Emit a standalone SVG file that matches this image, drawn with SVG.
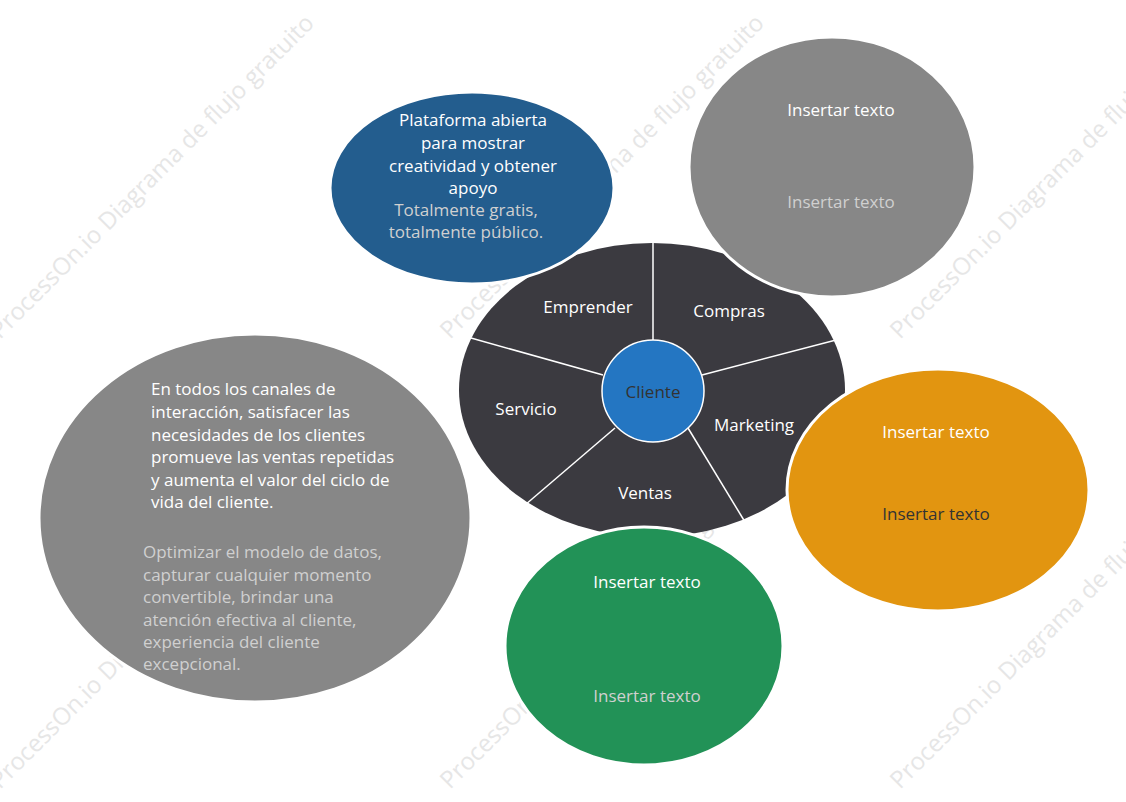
<svg xmlns="http://www.w3.org/2000/svg" width="1126" height="802" viewBox="0 0 1126 802">
<style>
text{font-family:"Open Sans","Noto Sans","Liberation Sans",sans-serif;font-size:17px}
.w{fill:#ffffff}.l{fill:#d0d0d0}.d{fill:#333333}
.wm{fill:#e6e6e6;font-size:24px}
.ring{stroke:#ffffff;stroke-width:3}
</style>
<rect width="1126" height="802" fill="#ffffff"/>
<g id="watermarks">
<text class="wm" transform="translate(0,340) rotate(-45)">ProcessOn.io Diagrama de flujo gratuito</text>
<text class="wm" transform="translate(450,340) rotate(-45)">ProcessOn.io Diagrama de flujo gratuito</text>
<text class="wm" transform="translate(900,340) rotate(-45)">ProcessOn.io Diagrama de flujo gratuito</text>
<text class="wm" transform="translate(0,790) rotate(-45)">ProcessOn.io Diagrama de flujo gratuito</text>
<text class="wm" transform="translate(450,790) rotate(-45)">ProcessOn.io Diagrama de flujo gratuito</text>
<text class="wm" transform="translate(900,790) rotate(-45)">ProcessOn.io Diagrama de flujo gratuito</text>
</g>
<g id="wheel">
<ellipse cx="652" cy="390" rx="193" ry="147" fill="#3b3a40"/>
<g stroke="#ffffff" stroke-width="1.5">
<line x1="653" y1="341" x2="653" y2="243"/>
<line x1="702" y1="375" x2="836" y2="340"/>
<line x1="688" y1="428" x2="745" y2="522"/>
<line x1="615" y1="428" x2="525" y2="505"/>
<line x1="603" y1="375" x2="471" y2="338"/>
</g>
<text class="w" x="588" y="313" text-anchor="middle">Emprender</text>
<text class="w" x="729" y="317" text-anchor="middle">Compras</text>
<text class="w" x="526" y="415" text-anchor="middle">Servicio</text>
<text class="w" x="754" y="431" text-anchor="middle">Marketing</text>
<text class="w" x="645" y="499" text-anchor="middle">Ventas</text>
</g>
<g id="cliente">
<circle cx="653" cy="391" r="51" fill="#2476c2" stroke="#ffffff" stroke-width="1.5"/>
<text class="d" x="653" y="398" text-anchor="middle">Cliente</text>
</g>
<g id="blue">
<ellipse class="ring" cx="472" cy="188" rx="142" ry="96" fill="#235d8e"/>
<text class="w" text-anchor="middle"><tspan x="473" y="126">Plataforma abierta</tspan><tspan x="473" y="149">para mostrar</tspan><tspan x="473" y="172">creatividad y obtener</tspan><tspan x="473" y="194">apoyo</tspan></text>
<text class="l" text-anchor="middle"><tspan x="466" y="216">Totalmente gratis,</tspan><tspan x="466" y="238">totalmente público.</tspan></text>
</g>
<g id="graytop">
<ellipse class="ring" cx="832" cy="167" rx="143" ry="130" fill="#878787"/>
<text class="w" x="841" y="116" text-anchor="middle">Insertar texto</text>
<text class="l" x="841" y="208" text-anchor="middle">Insertar texto</text>
</g>
<g id="orange">
<ellipse class="ring" cx="938" cy="490" rx="151" ry="121" fill="#e29510"/>
<text class="w" x="936" y="438" text-anchor="middle">Insertar texto</text>
<text class="d" x="936" y="520" text-anchor="middle">Insertar texto</text>
</g>
<g id="green">
<ellipse class="ring" cx="644" cy="646" rx="139" ry="119" fill="#229257"/>
<text class="w" x="647" y="588" text-anchor="middle">Insertar texto</text>
<text class="l" x="647" y="702" text-anchor="middle">Insertar texto</text>
</g>
<g id="grayleft">
<ellipse class="ring" cx="255" cy="518" rx="216" ry="184" fill="#878787"/>
<text class="w"><tspan x="151" y="395">En todos los canales de</tspan><tspan x="151" y="418">interacción, satisfacer las</tspan><tspan x="151" y="441">necesidades de los clientes</tspan><tspan x="151" y="463">promueve las ventas repetidas</tspan><tspan x="151" y="486">y aumenta el valor del ciclo de</tspan><tspan x="151" y="508">vida del cliente.</tspan></text>
<text class="l"><tspan x="143" y="558">Optimizar el modelo de datos,</tspan><tspan x="143" y="581">capturar cualquier momento</tspan><tspan x="143" y="603">convertible, brindar una</tspan><tspan x="143" y="626">atención efectiva al cliente,</tspan><tspan x="143" y="648">experiencia del cliente</tspan><tspan x="143" y="670">excepcional.</tspan></text>
</g>
<g id="connectors"/>
</svg>
